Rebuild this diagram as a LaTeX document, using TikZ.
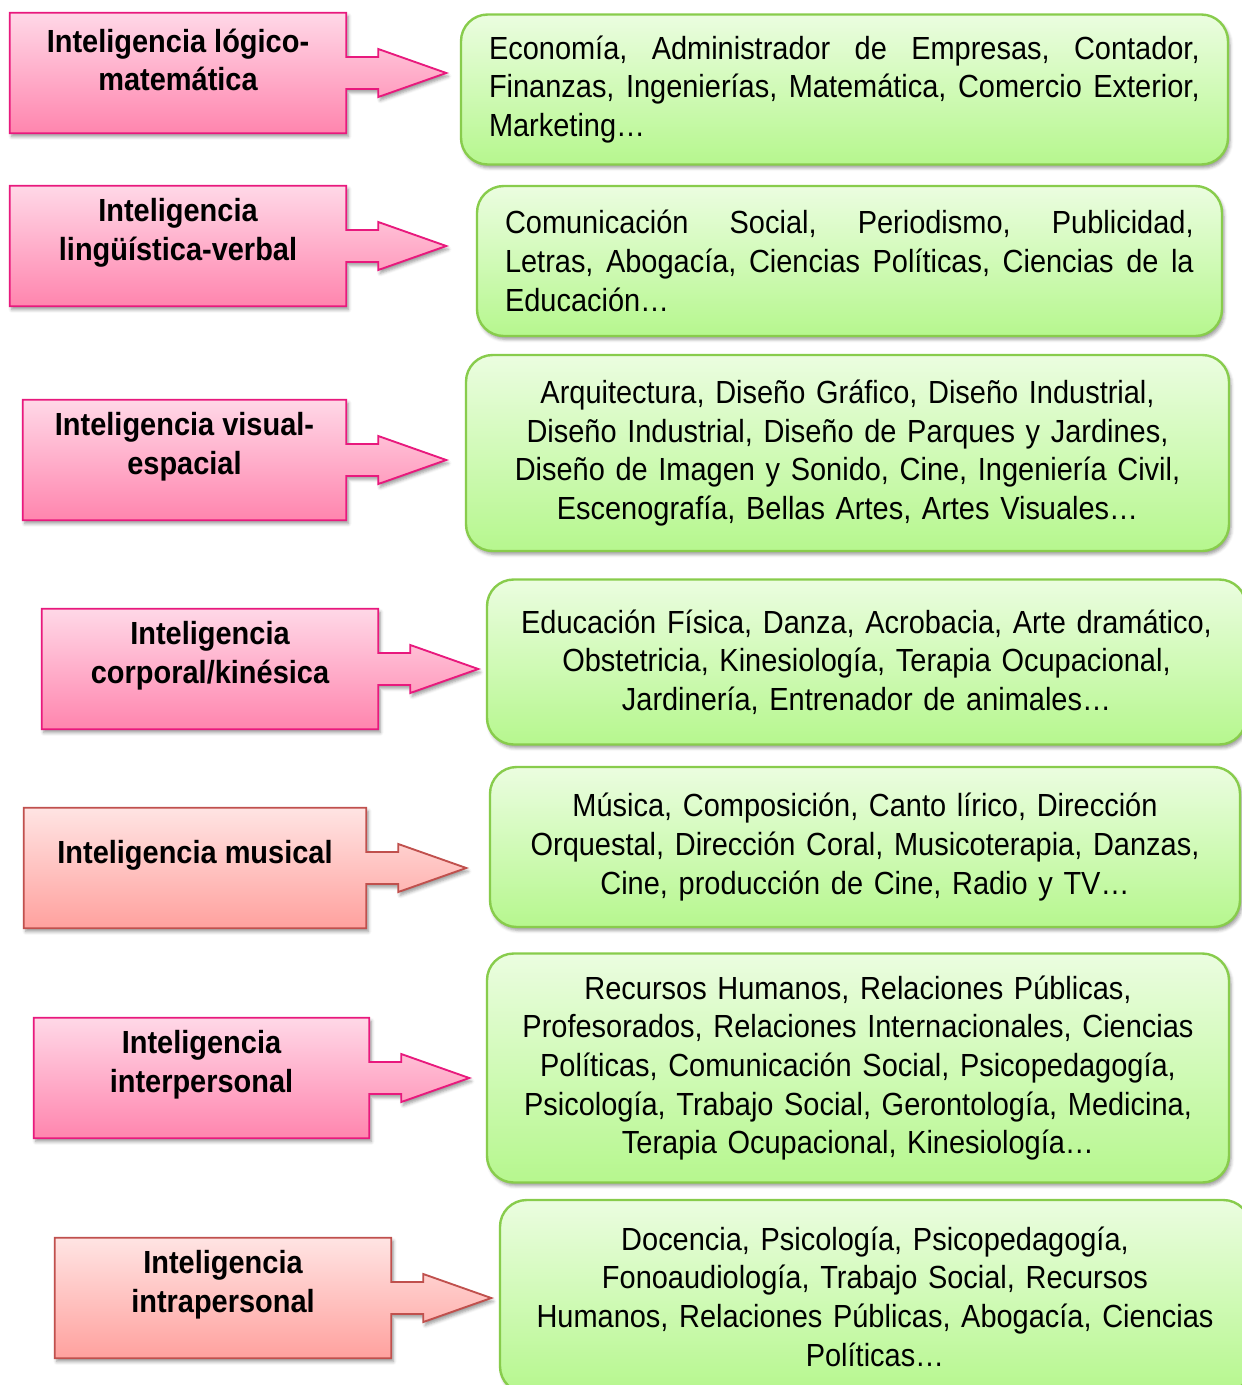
\documentclass[tikz,border=0pt]{standalone}
\usepackage{fontspec}
\setmainfont[FakeStretch=0.905]{Liberation Sans}
\usepackage{tikz}
\usetikzlibrary{calc,shadows.blur}
\definecolor{pinkline}{HTML}{E8197D}
\definecolor{pinktop}{HTML}{FFD8E7}
\definecolor{pinkbot}{HTML}{FF85AE}
\definecolor{redline}{HTML}{C0504D}
\definecolor{redtop}{HTML}{FFE4E3}
\definecolor{redbot}{HTML}{FFA19E}
\definecolor{greenline}{HTML}{88CC4C}
\definecolor{greentop}{HTML}{EBFDE0}
\definecolor{greenbot}{HTML}{B6F78E}
\tikzset{
  softshadow/.style={blur shadow={shadow xshift=1.5pt, shadow yshift=-2.5pt,
      shadow blur radius=2.5pt, shadow opacity=40}},
  callrect/.style={minimum height=90pt, inner sep=0pt},
  pinkcall/.style={draw=pinkline, line width=1.4pt, line join=miter,
    top color=pinktop, bottom color=pinkbot, softshadow},
  redcall/.style={draw=redline, line width=1.4pt, line join=miter,
    top color=redtop, bottom color=redbot, softshadow},
  tagtext/.style={align=center, font=\fontsize{24pt}{29pt}\selectfont\bfseries},
  careerbox/.style={draw=greenline, line width=1.8pt, rounded corners=20pt,
    top color=greentop, bottom color=greenbot, softshadow, inner xsep=21pt,
    font=\fontsize{24pt}{29pt}\selectfont}
}

\begin{document}
\begin{tikzpicture}[x=0.75pt, y=-0.75pt]

  \useasboundingbox (0,0) rectangle (1242,1385);
  \clip (0,0) rectangle (1242,1385);

  %% name, style, width (px), centre, text
  \newcommand\Callout[5]{%
    \node[callrect, minimum width=#3*0.75pt] (#1) at (#4) {};
    \draw[#2] (#1.north west) -- (#1.north east) -- ($(#1.east)+(0,-16)$)
      -- ($(#1.east)+(32,-16)$) -- ($(#1.east)+(32,-24)$) -- ($(#1.east)+(100,0)$)
      -- ($(#1.east)+(32,24)$) -- ($(#1.east)+(32,16)$) -- ($(#1.east)+(0,16)$)
      -- (#1.south east) -- (#1.south west) -- cycle;
    \node[tagtext] (#1-txt) at ($(#1.center)+(0,-13)$) {#5};}
  %% justified line of a given width
  \newcommand\J[2]{\leavevmode{\frenchspacing\spaceskip=0.28em plus 1fil\hbox to #1{#2}}}

  \Callout{logic}{pinkcall}{336}{178,73}{Inteligencia lógico-\\matemática}
  \Callout{verbal}{pinkcall}{336}{178,246}{Inteligencia\\lingüística-verbal}
  \Callout{visual}{pinkcall}{323}{184.5,460}{Inteligencia visual-\\espacial}
  \Callout{body}{pinkcall}{336}{210,669}{Inteligencia\\corporal/kinésica}
  \Callout{music}{redcall}{342}{195,868}{Inteligencia musical}
  \Callout{inter}{pinkcall}{335}{201.5,1078}{Inteligencia\\interpersonal}
  \Callout{intra}{redcall}{336}{223,1298}{Inteligencia\\intrapersonal}

  \node[careerbox, minimum width=767*0.75pt, minimum height=150*0.75pt,
    text width=711*0.75pt, align=left] (logic-c) at (844.5,89.5)
  {\J{533pt}{Economía, Administrador de Empresas, Contador,}\\
   \J{533pt}{Finanzas, Ingenierías, Matemática, Comercio Exterior,}\\
   Marketing…};

  \node[careerbox, minimum width=745*0.75pt, minimum height=150*0.75pt,
    text width=689*0.75pt, align=left] (verbal-c) at (849.5,261)
  {\J{516.5pt}{Comunicación Social, Periodismo, Publicidad,}\\
   \J{516.5pt}{Letras, Abogacía, Ciencias Políticas, Ciencias de la}\\
   Educación…};

  \node[careerbox, minimum width=763*0.75pt, minimum height=196*0.75pt,
    text width=707*0.75pt, align=center] (visual-c) at (847.5,453)
  {Arquitectura, Diseño Gráfico, Diseño Industrial,\\
   Diseño Industrial, Diseño de Parques y Jardines,\\
   Diseño de Imagen y Sonido, Cine, Ingeniería Civil,\\
   Escenografía, Bellas Artes, Artes Visuales…};

  \node[careerbox, minimum width=759*0.75pt, minimum height=165*0.75pt,
    text width=703*0.75pt, align=center] (body-c) at (866.5,662)
  {Educación Física, Danza, Acrobacia, Arte dramático,\\
   Obstetricia, Kinesiología, Terapia Ocupacional,\\
   Jardinería, Entrenador de animales…};

  \node[careerbox, minimum width=750*0.75pt, minimum height=160*0.75pt,
    text width=694*0.75pt, align=center] (music-c) at (865,847)
  {Música, Composición, Canto lírico, Dirección\\
   Orquestal, Dirección Coral, Musicoterapia, Danzas,\\
   Cine, producción de Cine, Radio y TV…};

  \node[careerbox, minimum width=742*0.75pt, minimum height=229*0.75pt,
    text width=686*0.75pt, align=center] (inter-c) at (858,1068)
  {Recursos Humanos, Relaciones Públicas,\\
   Profesorados, Relaciones Internacionales, Ciencias\\
   Políticas, Comunicación Social, Psicopedagogía,\\
   Psicología, Trabajo Social, Gerontología, Medicina,\\
   Terapia Ocupacional, Kinesiología…};

  \node[careerbox, minimum width=750*0.75pt, minimum height=193*0.75pt,
    text width=694*0.75pt, align=center] (intra-c) at (875,1296.5)
  {Docencia, Psicología, Psicopedagogía,\\
   Fonoaudiología, Trabajo Social, Recursos\\
   Humanos, Relaciones Públicas, Abogacía, Ciencias\\
   Políticas…};

\end{tikzpicture}
\end{document}
